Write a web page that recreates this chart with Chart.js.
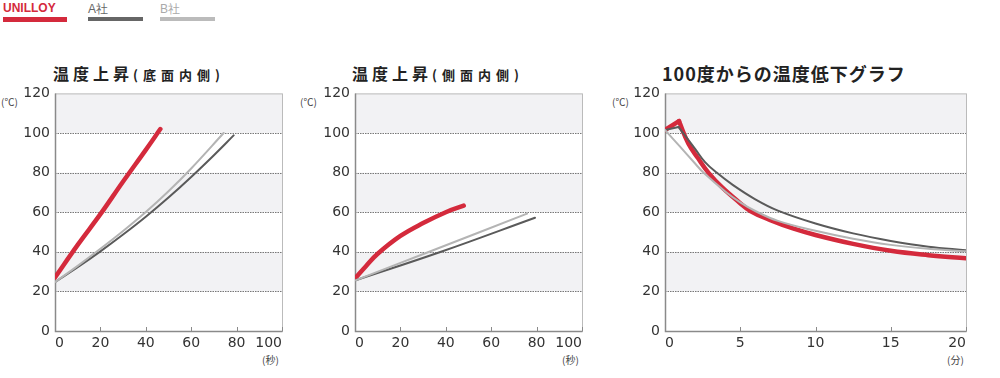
<!DOCTYPE html>
<html>
<head>
<meta charset="utf-8">
<script src="https://cdn.jsdelivr.net/npm/chart.js@4"></script>
<style>
  body { margin: 0; width: 1000px; height: 378px; background: #fff; position: relative; overflow: hidden; font-family: "Noto Sans CJK JP", "Liberation Sans", sans-serif; }
  .box { position: absolute; top: 80px; height: 298px; }
  .title { position: absolute; top: 61px; font-weight: bold; color: #222; font-size: 16px; letter-spacing: 4px; white-space: nowrap; line-height: 24px; }
  .title small { font-size: 13px; letter-spacing: 5px; }
  .unit { position: absolute; font-size: 10px; color: #444; white-space: nowrap; }
  .leg { position: absolute; top: 1px; font-size: 12px; font-family: "Liberation Sans", sans-serif; }
  .leg i { position: absolute; left: 0; display: block; height: 4px; }
</style>
</head>
<body>
<div class="leg" style="left:3px;color:#d42a3c;font-weight:bold">UNILLOY<i style="top:16px;width:64px;height:5px;background:#d42a3c"></i></div>
<div class="leg" style="left:88px;color:#666">A社<i style="top:16px;width:55px;background:#666"></i></div>
<div class="leg" style="left:160px;color:#aaa">B社<i style="top:16px;width:55px;background:#bbb"></i></div>

<div class="title" style="left:53px">温度上昇<small>(底面内側)</small></div>
<div class="title" style="left:352px">温度上昇<small>(側面内側)</small></div>
<div class="title" style="left:662px;letter-spacing:1px;font-size:18px">100度からの温度低下グラフ</div>

<div class="unit" style="left:1px;top:94px">(℃)</div>
<div class="unit" style="left:300px;top:94px">(℃)</div>
<div class="unit" style="left:612px;top:94px">(℃)</div>
<div class="unit" style="left:262px;top:352px">(秒)</div>
<div class="unit" style="left:562px;top:352px">(秒)</div>
<div class="unit" style="left:947px;top:352px">(分)</div>

<div class="box" style="left:0;width:300px"><canvas id="c1"></canvas></div>
<div class="box" style="left:300px;width:300px"><canvas id="c2"></canvas></div>
<div class="box" style="left:610px;width:374px"><canvas id="c3"></canvas></div>

<script>
// 温度上昇(底面内側) - seconds
const bottomUnilloyX = [0, 10, 20, 30, 40, 46.4];
const bottomUnilloyY = [27, 43.5, 59, 75.5, 91.5, 102];
const bottomAX = [0, 10, 20, 30, 40, 50, 60, 70, 78.7];
const bottomAY = [24.7, 32.2, 40.2, 48.7, 57.7, 67.4, 77.8, 88.8, 98.8];
const bottomBX = [0, 10, 20, 30, 40, 50, 60, 74.3];
const bottomBY = [24.7, 32.9, 41.5, 50.5, 60.1, 70.6, 82.1, 100];

// 温度上昇(側面内側) - seconds
const sideUnilloyX = [0, 5, 10, 20, 30, 40, 47.9];
const sideUnilloyY = [26.5, 33, 39, 48, 54.5, 60, 63.3];
const sideAX = [0, 37.9, 79.3];
const sideAY = [25.5, 40, 57.2];
const sideBX = [0, 32.7, 75.8];
const sideBY = [25.5, 40, 59.3];

// 100度からの温度低下 - minutes
const coolUnilloyX = [0, 0.93, 1.55, 2.2, 2.88, 3.8, 4.9, 5.7, 7, 8.5, 10, 12.5, 15, 17.5, 20];
const coolUnilloyY = [101.5, 106, 94.7, 87.2, 80, 72.5, 65.2, 60.5, 56, 51.8, 48.5, 44, 40.5, 38.3, 36.7];
const coolAX = [0, 0.9, 2, 2.66, 3.43, 4.5, 6, 7.5, 10, 12.5, 15, 17.5, 20];
const coolAY = [101.5, 103, 92, 85.3, 80, 73.8, 66.5, 60.8, 54.3, 49.3, 45.5, 42.6, 40.8];
const coolBX = [0, 1, 2, 2.55, 4, 5, 6, 7.5, 10, 12.5, 15, 17.5, 20];
const coolBY = [101.5, 93.1, 84.6, 80, 70.5, 65, 60.6, 55.6, 50.6, 46.6, 43.5, 41.5, 40.3];

const yTicks = [0, 20, 40, 60, 80, 100, 120];

const RED = '#d42a3c';
const DARK = '#5a5a5a';
const LIGHT = '#b4b4b4';

function pts(xs, ys) {
    return xs.map((x, i) => ({ x: x, y: ys[i] }));
}

const panel = {
    id: 'panel',
    beforeDatasetsDraw(chart) {
        const c = chart.ctx;
        const a = chart.chartArea;
        const y = chart.scales.y;
        const x = chart.scales.x;
        c.save();
        // grey bands
        c.fillStyle = '#f2f2f4';
        [[20, 40], [60, 80], [100, 120]].forEach(b => {
            const t = y.getPixelForValue(b[1]);
            const btm = y.getPixelForValue(b[0]);
            c.fillRect(a.left, t, a.right - a.left, btm - t);
        });
        // dotted grid lines
        c.strokeStyle = '#777';
        c.lineWidth = 1;
        c.setLineDash([1.5, 1]);
        yTicks.slice(1, -1).forEach(v => {
            const py = Math.round(y.getPixelForValue(v)) + 0.5;
            c.beginPath();
            c.moveTo(a.left, py);
            c.lineTo(a.right, py);
            c.stroke();
        });
        c.setLineDash([]);
        // frame
        c.strokeStyle = '#bbb';
        c.strokeRect(a.left + 0.5, a.top + 0.5, a.right - a.left, a.bottom - a.top);
        c.strokeStyle = '#8a8a8a';
        c.lineWidth = 1.5;
        c.beginPath();
        c.moveTo(a.left + 0.5, a.top);
        c.lineTo(a.left + 0.5, a.bottom + 0.5);
        c.lineTo(a.right + 0.5, a.bottom + 0.5);
        c.stroke();
        // small tick marks on bottom axis
        c.lineWidth = 1;
        x.ticks.forEach(t => {
            const px = Math.round(x.getPixelForValue(t.value)) + 0.5;
            c.beginPath();
            c.moveTo(px, a.bottom);
            c.lineTo(px, a.bottom - 4);
            c.stroke();
        });
        c.restore();
    }
};

// one series -> one dataset; if peak is given, the rise up to the peak is drawn straight
function series(label, xs, ys, color, width, peak) {
    const base = { label: label, borderColor: color, borderWidth: width, borderCapStyle: 'round', borderJoinStyle: 'round', tension: 0.4 };
    const all = pts(xs, ys);
    if (peak === undefined) return [Object.assign({ data: all }, base)];
    return [
        Object.assign({}, base, { data: all.slice(0, peak + 1), tension: 0 }),
        Object.assign({}, base, { data: all.slice(peak) })
    ];
}

function makeChart(id, datasets, xMax, xStep) {
    new Chart(document.getElementById(id), {
        type: 'line',
        data: { datasets: datasets },
        options: {
            responsive: true,
            maintainAspectRatio: false,
            animation: false,
            layout: { padding: { top: 11, right: 18, left: 0, bottom: 0 } },
            elements: { point: { radius: 0 }, line: { fill: false } },
            plugins: { legend: { display: false }, tooltip: { enabled: false } },
            scales: {
                x: {
                    type: 'linear',
                    min: 0,
                    max: xMax,
                    grid: { display: false, drawTicks: false },
                    border: { display: false },
                    afterFit: s => { s.height = 47; },
                    ticks: { stepSize: xStep, padding: 4, align: 'inner', maxRotation: 0, color: '#333', font: { family: 'DejaVu Sans', size: 14 } }
                },
                y: {
                    min: 0,
                    max: 120,
                    grid: { display: false, drawTicks: false },
                    border: { display: false },
                    afterFit: s => { s.width = 55; },
                    afterBuildTicks: s => { s.ticks = yTicks.map(v => ({ value: v })); },
                    ticks: { padding: 5, color: '#333', font: { family: 'DejaVu Sans', size: 14 } }
                }
            }
        },
        plugins: [panel]
    });
}

makeChart('c1', [
    ...series('B社', bottomBX, bottomBY, LIGHT, 2),
    ...series('A社', bottomAX, bottomAY, DARK, 2),
    ...series('UNILLOY', bottomUnilloyX, bottomUnilloyY, RED, 4.5)
], 100, 20);
makeChart('c2', [
    ...series('B社', sideBX, sideBY, LIGHT, 2),
    ...series('A社', sideAX, sideAY, DARK, 2),
    ...series('UNILLOY', sideUnilloyX, sideUnilloyY, RED, 4.5)
], 100, 20);
makeChart('c3', [
    ...series('B社', coolBX, coolBY, LIGHT, 2),
    ...series('A社', coolAX, coolAY, DARK, 2, 1),
    ...series('UNILLOY', coolUnilloyX, coolUnilloyY, RED, 4.5, 1)
], 20, 5);
</script>
</body>
</html>
